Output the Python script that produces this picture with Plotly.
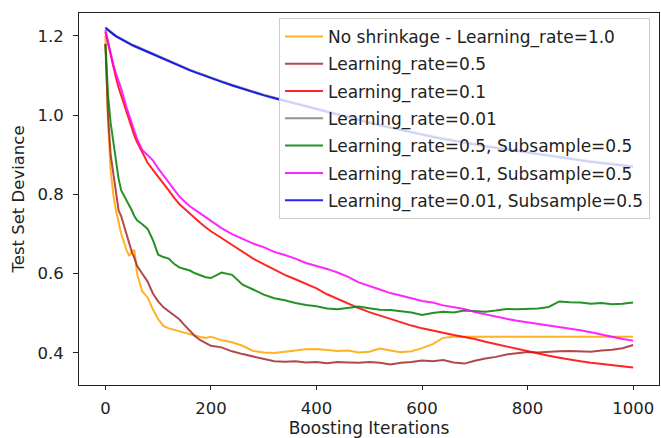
import plotly.graph_objects as go

iterations = [0, 5, 10, 15, 20, 25, 30, 40, 45, 50, 55, 60, 70, 80, 90, 100, 110, 120, 130, 140,
              150, 160, 170, 180, 190, 200, 220, 240, 260, 280, 300, 320, 340, 360, 380, 400,
              420, 440, 460, 480, 500, 520, 540, 560, 580, 600, 620, 640, 660, 680, 700, 720,
              740, 760, 780, 800, 820, 840, 860, 880, 900, 920, 940, 960, 980, 1000]

no_shrinkage = [1.20, 0.98, 0.86, 0.80, 0.76, 0.73, 0.70, 0.66, 0.645, 0.655, 0.66, 0.60, 0.555, 0.54,
                0.51, 0.485, 0.468, 0.462, 0.458, 0.456, 0.452, 0.448, 0.443, 0.440, 0.438, 0.441,
                0.432, 0.427, 0.418, 0.405, 0.401, 0.400, 0.403, 0.406, 0.409, 0.410, 0.407, 0.405,
                0.406, 0.401, 0.403, 0.411, 0.406, 0.402, 0.404, 0.412, 0.422, 0.438, 0.441, 0.441,
                0.441, 0.441, 0.441, 0.441, 0.441, 0.441, 0.441, 0.441, 0.441, 0.441, 0.441, 0.441,
                0.441, 0.441, 0.441, 0.441]

lr_05 = [1.18, 1.00, 0.90, 0.85, 0.80, 0.76, 0.745, 0.70, 0.68, 0.655, 0.64, 0.62, 0.60, 0.58, 0.55,
         0.53, 0.515, 0.505, 0.497, 0.485, 0.47, 0.455, 0.442, 0.432, 0.425, 0.418, 0.414, 0.404,
         0.397, 0.391, 0.384, 0.379, 0.378, 0.379, 0.376, 0.377, 0.374, 0.377, 0.376, 0.375, 0.377,
         0.375, 0.371, 0.375, 0.377, 0.381, 0.379, 0.382, 0.376, 0.373, 0.380, 0.386, 0.390, 0.396,
         0.399, 0.402, 0.401, 0.403, 0.404, 0.405, 0.404, 0.403, 0.406, 0.408, 0.412, 0.420]

lr_01 = [1.21, 1.18, 1.15, 1.12, 1.095, 1.07, 1.05, 1.005, 0.985, 0.965, 0.948, 0.932, 0.905, 0.88,
         0.862, 0.845, 0.83, 0.81, 0.792, 0.776, 0.764, 0.752, 0.738, 0.728, 0.717, 0.707, 0.69,
         0.672, 0.654, 0.638, 0.624, 0.61, 0.597, 0.586, 0.574, 0.563, 0.548, 0.536, 0.523, 0.513,
         0.503, 0.494, 0.485, 0.477, 0.469, 0.462, 0.456, 0.45, 0.445, 0.44, 0.435, 0.428, 0.422,
         0.416, 0.41, 0.404, 0.398, 0.393, 0.388, 0.383, 0.379, 0.375, 0.372, 0.369, 0.366, 0.363]

lr_001 = [1.222, 1.216, 1.211, 1.206, 1.201, 1.197, 1.193, 1.186, 1.182, 1.179, 1.176, 1.173, 1.167,
          1.161, 1.155, 1.149, 1.143, 1.137, 1.131, 1.126, 1.120, 1.115, 1.110, 1.105, 1.100, 1.095,
          1.086, 1.077, 1.068, 1.060, 1.052, 1.045, 1.038, 1.031, 1.024, 1.017, 1.010, 1.003, 0.996,
          0.989, 0.982, 0.976, 0.970, 0.964, 0.958, 0.952, 0.947, 0.942, 0.937, 0.932, 0.927, 0.923,
          0.919, 0.915, 0.911, 0.907, 0.903, 0.899, 0.895, 0.891, 0.887, 0.884, 0.881, 0.878, 0.875,
          0.872]

lr_05_sub = [1.18, 1.05, 0.98, 0.93, 0.88, 0.84, 0.81, 0.785, 0.775, 0.76, 0.745, 0.735, 0.725, 0.713,
             0.685, 0.648, 0.642, 0.638, 0.625, 0.616, 0.612, 0.608, 0.601, 0.596, 0.591, 0.589,
             0.603, 0.597, 0.572, 0.56, 0.547, 0.538, 0.533, 0.526, 0.521, 0.518, 0.512, 0.51, 0.513,
             0.517, 0.513, 0.509, 0.508, 0.505, 0.502, 0.496, 0.501, 0.504, 0.502, 0.507, 0.505,
             0.504, 0.507, 0.511, 0.51, 0.511, 0.512, 0.516, 0.53, 0.528, 0.527, 0.524, 0.526, 0.523,
             0.524, 0.527]

lr_01_sub = [1.215, 1.185, 1.155, 1.128, 1.105, 1.085, 1.067, 1.02, 1.0, 0.975, 0.955, 0.94, 0.912,
             0.9, 0.886, 0.866, 0.848, 0.832, 0.815, 0.795, 0.782, 0.77, 0.761, 0.752, 0.744, 0.733,
             0.715, 0.70, 0.688, 0.676, 0.667, 0.655, 0.647, 0.638, 0.627, 0.62, 0.612, 0.603, 0.592,
             0.578, 0.568, 0.56, 0.551, 0.545, 0.538, 0.531, 0.527, 0.52, 0.515, 0.511, 0.503, 0.497,
             0.491, 0.486, 0.481, 0.477, 0.474, 0.47, 0.465, 0.461, 0.457, 0.452, 0.446, 0.44, 0.435,
             0.431]

lr_001_sub = [1.220, 1.214, 1.209, 1.204, 1.199, 1.195, 1.191, 1.184, 1.180, 1.177, 1.174, 1.171,
              1.165, 1.159, 1.153, 1.147, 1.141, 1.135, 1.129, 1.124, 1.118, 1.113, 1.108, 1.103,
              1.098, 1.093, 1.084, 1.075, 1.066, 1.058, 1.050, 1.043, 1.036, 1.029, 1.022, 1.015,
              1.008, 1.001, 0.994, 0.987, 0.980, 0.974, 0.968, 0.962, 0.956, 0.950, 0.945, 0.940,
              0.935, 0.930, 0.925, 0.921, 0.917, 0.913, 0.909, 0.905, 0.901, 0.897, 0.893, 0.889,
              0.885, 0.882, 0.879, 0.876, 0.873, 0.870]

series_labels = ["No shrinkage - Learning_rate=1.0", "Learning_rate=0.5", "Learning_rate=0.1",
                 "Learning_rate=0.01", "Learning_rate=0.5, Subsample=0.5",
                 "Learning_rate=0.1, Subsample=0.5", "Learning_rate=0.01, Subsample=0.5"]
series_values = [no_shrinkage, lr_05, lr_01, lr_001, lr_05_sub, lr_01_sub, lr_001_sub]
series_colors = ["orange", "brown", "red", "gray", "green", "magenta", "blue"]

x_ticks = [0, 200, 400, 600, 800, 1000]
y_ticks = [0.4, 0.6, 0.8, 1.0, 1.2]
y_tick_labels = ["0.4", "0.6", "0.8", "1.0", "1.2"]

FONT = "DejaVu Sans"
FS = 17

fig = go.Figure()
for i, (lab, vals, col) in enumerate(zip(series_labels, series_values, series_colors)):
    fig.add_trace(go.Scatter(x=iterations, y=vals, mode="lines", name=lab,
                             legendgroup=f"g{i}",
                             line=dict(color=col, width=2), opacity=0.85))

axis_common = dict(showline=True, mirror=True, linecolor="#222222", linewidth=1,
                   ticks="outside", tickcolor="#222222", tickwidth=1,
                   showgrid=False, zeroline=False, automargin=False,
                   tickfont=dict(family=FONT, size=16.5, color="#222222"))

fig.update_layout(
    width=661, height=438,
    margin=dict(l=79, r=2, t=13, b=53),
    paper_bgcolor="white", plot_bgcolor="white",
    font=dict(family=FONT, size=FS, color="#222222"),
    xaxis=dict(range=[-50, 1049], tickvals=x_ticks, ticklen=4, ticklabelstandoff=4,
               title=dict(text="Boosting Iterations", font=dict(family=FONT, size=FS), standoff=3),
               **axis_common),
    yaxis=dict(range=[0.319, 1.258], tickvals=y_ticks, ticktext=y_tick_labels,
               ticklen=5, ticklabelstandoff=6,
               title=dict(text="Test Set Deviance", font=dict(family=FONT, size=16.5), standoff=8),
               **axis_common),
    legend=dict(x=0.9845, xanchor="right", y=0.987, yanchor="top",
                bgcolor="rgba(255,255,255,0.8)", bordercolor="#cccccc", borderwidth=1,
                font=dict(family=FONT, size=FS, color="#222222"),
                tracegroupgap=2.2, itemwidth=38),
    showlegend=True,
)

fig.write_html("out.html", config={"displayModeBar": False},
               post_script="document.body.style.margin='0';")
